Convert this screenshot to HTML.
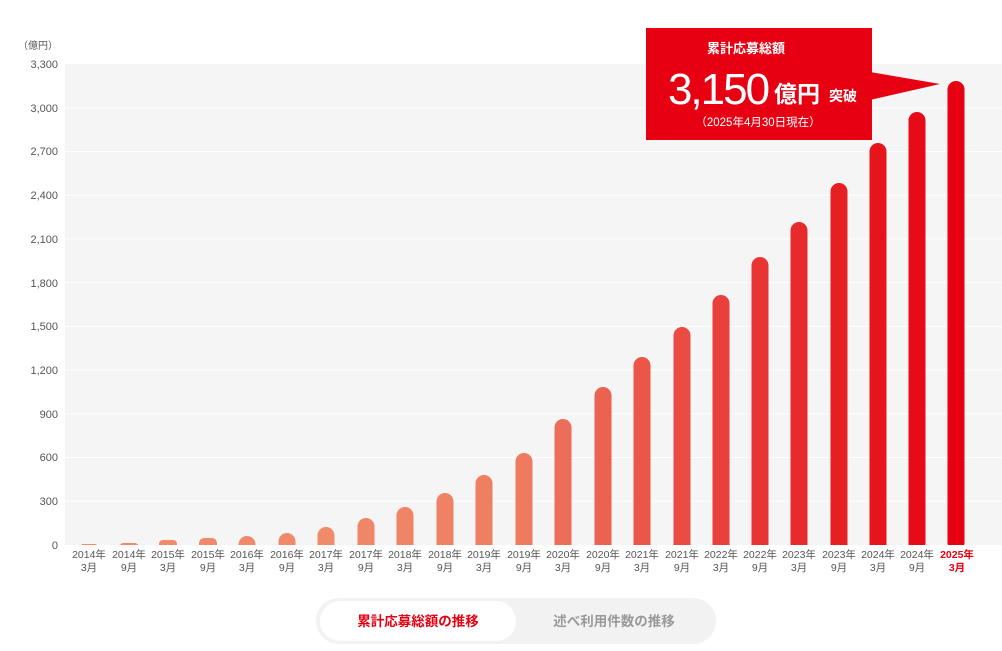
<!DOCTYPE html>
<html><head><meta charset="utf-8"><style>
html,body{margin:0;padding:0;background:#fff;}
body{width:1002px;height:646px;overflow:hidden;font-family:"Liberation Sans","Noto Sans CJK JP",sans-serif;}
</style></head><body>
<svg width="1002" height="646" viewBox="0 0 1002 646" xmlns="http://www.w3.org/2000/svg" font-family="Liberation Sans, Noto Sans CJK JP, sans-serif">
<defs><clipPath id="c"><rect x="60" y="60" width="942" height="485"/></clipPath></defs>
<rect x="65" y="64" width="937" height="481" fill="#f5f5f5"/>
<g stroke="#ffffff" stroke-width="1">
<line x1="65" y1="107.7" x2="1002" y2="107.7"/><line x1="65" y1="151.5" x2="1002" y2="151.5"/>
<line x1="65" y1="195.2" x2="1002" y2="195.2"/><line x1="65" y1="238.9" x2="1002" y2="238.9"/>
<line x1="65" y1="282.6" x2="1002" y2="282.6"/><line x1="65" y1="326.4" x2="1002" y2="326.4"/>
<line x1="65" y1="370.1" x2="1002" y2="370.1"/><line x1="65" y1="413.8" x2="1002" y2="413.8"/>
<line x1="65" y1="457.5" x2="1002" y2="457.5"/><line x1="65" y1="501.3" x2="1002" y2="501.3"/>
</g>
<g font-size="11" fill="#555" text-anchor="end">
<text x="58" y="49" font-size="10">（億円）</text>
<text x="58" y="68">3,300</text><text x="58" y="112">3,000</text><text x="58" y="155">2,700</text>
<text x="58" y="199">2,400</text><text x="58" y="243">2,100</text><text x="58" y="287">1,800</text>
<text x="58" y="330">1,500</text><text x="58" y="374">1,200</text><text x="58" y="418">900</text>
<text x="58" y="461">600</text><text x="58" y="505">300</text><text x="58" y="549">0</text>
</g>
<g clip-path="url(#c)">
<rect x="81" y="544" width="16" height="4" rx="2" fill="#f08a6a"/>
<rect x="120" y="543" width="18" height="6" rx="3" fill="#f08a6a"/>
<rect x="159" y="540" width="18" height="10" rx="4" fill="#f08a6a"/>
<rect x="199" y="538" width="18" height="12" rx="5" fill="#f08a6a"/>
<rect x="238.5" y="536" width="17" height="20" rx="8.5" fill="#f08a6a"/>
<rect x="278.5" y="533" width="17" height="22" rx="8.5" fill="#f08a6a"/>
<rect x="317.5" y="527" width="17" height="30" rx="8.5" fill="#f08a69"/>
<rect x="357.5" y="518" width="17" height="40" rx="8.5" fill="#ef8668"/>
<rect x="396.5" y="507" width="17" height="50" rx="8.5" fill="#ef8466"/>
<rect x="436.5" y="493" width="17" height="60" rx="8.5" fill="#ef8265"/>
<rect x="475.5" y="475" width="17" height="80" rx="8.5" fill="#ee7f62"/>
<rect x="515.5" y="453" width="17" height="100" rx="8.5" fill="#ee7a5f"/>
<rect x="554.5" y="419" width="17" height="140" rx="8.5" fill="#ed6e58"/>
<rect x="594.5" y="387" width="17" height="170" rx="8.5" fill="#ec6250"/>
<rect x="633.5" y="357" width="17" height="200" rx="8.5" fill="#eb5649"/>
<rect x="673.5" y="327" width="17" height="230" rx="8.5" fill="#ea4c43"/>
<rect x="712.5" y="295" width="17" height="260" rx="8.5" fill="#e9403b"/>
<rect x="751.5" y="257" width="17" height="300" rx="8.5" fill="#e83533"/>
<rect x="790.5" y="222" width="17" height="330" rx="8.5" fill="#e72a2b"/>
<rect x="830.5" y="183" width="17" height="370" rx="8.5" fill="#e61f23"/>
<rect x="869.5" y="143" width="17" height="410" rx="8.5" fill="#e6151c"/>
<rect x="908.5" y="112" width="17" height="440" rx="8.5" fill="#e60b17"/>
<rect x="947.5" y="81" width="17" height="470" rx="8.5" fill="#e60012"/>
</g>
<g font-size="10.5" fill="#555" text-anchor="middle">
<text x="89" y="558">2014年</text><text x="89" y="571">3月</text>
<text x="129" y="558">2014年</text><text x="129" y="571">9月</text>
<text x="168" y="558">2015年</text><text x="168" y="571">3月</text>
<text x="208" y="558">2015年</text><text x="208" y="571">9月</text>
<text x="247" y="558">2016年</text><text x="247" y="571">3月</text>
<text x="287" y="558">2016年</text><text x="287" y="571">9月</text>
<text x="326" y="558">2017年</text><text x="326" y="571">3月</text>
<text x="366" y="558">2017年</text><text x="366" y="571">9月</text>
<text x="405" y="558">2018年</text><text x="405" y="571">3月</text>
<text x="445" y="558">2018年</text><text x="445" y="571">9月</text>
<text x="484" y="558">2019年</text><text x="484" y="571">3月</text>
<text x="524" y="558">2019年</text><text x="524" y="571">9月</text>
<text x="563" y="558">2020年</text><text x="563" y="571">3月</text>
<text x="603" y="558">2020年</text><text x="603" y="571">9月</text>
<text x="642" y="558">2021年</text><text x="642" y="571">3月</text>
<text x="682" y="558">2021年</text><text x="682" y="571">9月</text>
<text x="721" y="558">2022年</text><text x="721" y="571">3月</text>
<text x="760" y="558">2022年</text><text x="760" y="571">9月</text>
<text x="799" y="558">2023年</text><text x="799" y="571">3月</text>
<text x="839" y="558">2023年</text><text x="839" y="571">9月</text>
<text x="878" y="558">2024年</text><text x="878" y="571">3月</text>
<text x="917" y="558">2024年</text><text x="917" y="571">9月</text>
<text x="957" y="558" fill="#e60012" font-weight="bold">2025年</text><text x="957" y="571" fill="#e60012" font-weight="bold">3月</text>
</g>
<polygon points="870,72 940,84 870,100" fill="#e60012"/>
<rect x="646" y="28" width="226" height="112" fill="#e60012"/>
<g fill="#fff" text-anchor="middle">
<text x="746" y="53" font-size="13" font-weight="bold">累計応募総額</text>
<text x="718" y="104" font-size="44" letter-spacing="-2">3,150</text>
<text x="797" y="102" font-size="23" font-weight="bold">億円</text>
<text x="843" y="101" font-size="14" font-weight="bold">突破</text>
<text x="758" y="126" font-size="11.5">（2025年4月30日現在）</text>
</g>
<rect x="316" y="598" width="400" height="46" rx="23" fill="#f2f2f2"/>
<rect x="320" y="601" width="196" height="40" rx="20" fill="#fff"/>
<text x="418" y="626" font-size="13.5" font-weight="bold" fill="#e60012" text-anchor="middle">累計応募総額の推移</text>
<text x="614" y="626" font-size="13.5" font-weight="bold" fill="#999" text-anchor="middle">述べ利用件数の推移</text>
</svg>
</body></html>
